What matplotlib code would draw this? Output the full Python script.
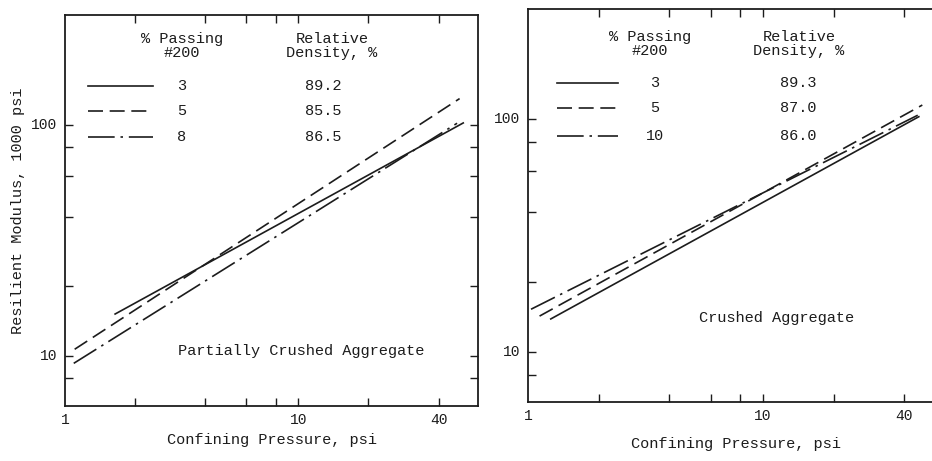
import matplotlib
matplotlib.use("Agg")
import matplotlib.pyplot as plt
from matplotlib.lines import Line2D
from matplotlib.ticker import FixedLocator, NullFormatter, NullLocator

plt.rcParams['font.family'] = ['Liberation Mono', 'DejaVu Sans Mono']

# data (log-log straight lines, start/end points)
pressure_left = {'3': [1.64, 51.0], '5': [1.10, 49.2], '8': [1.09, 48.0]}
modulus_left = {'3': [15.2, 102.0], '5': [10.7, 130.0], '8': [9.3, 101.7]}
density_left = ['89.2', '85.5', '86.5']

pressure_right = {'3': [1.25, 46.1], '5': [1.12, 47.7], '10': [1.03, 45.6]}
modulus_right = {'3': [13.9, 102.5], '5': [14.3, 115.0], '10': [15.3, 104.0]}
density_right = ['89.3', '87.0', '86.0']

xticks = [2, 4, 6, 8, 10, 20, 40]
xticklabels = ['1', '10', '40']
yticks = [8, 10, 20, 40, 60, 80, 100]
yticklabels = ['10', '100']

W, H = 932, 461
INK = '#1c1c1c'
styles = [dict(ls='-'), dict(ls=(0, (9, 4))), dict(ls=(0, (16, 3.5, 1.5, 3.5)))]
LW = 1.2
FS = 11

fig = plt.figure(figsize=(W / 100, H / 100), dpi=100)


def px(x, y):
    return x / W, 1 - y / H


def make_axes(x0, x1, y0, y1):
    l, t = px(x0, y0)
    r, b = px(x1, y1)
    return fig.add_axes([l, b, r - l, t - b])


def style_axes(ax, ylim):
    ax.set_xscale('log')
    ax.set_yscale('log')
    ax.set_xlim(1.0, 59)
    ax.set_ylim(*ylim)
    ax.xaxis.set_major_locator(FixedLocator(xticks))
    ax.xaxis.set_minor_locator(NullLocator())
    ax.yaxis.set_major_locator(FixedLocator(yticks))
    ax.yaxis.set_minor_locator(NullLocator())
    ax.xaxis.set_major_formatter(NullFormatter())
    ax.yaxis.set_major_formatter(NullFormatter())
    ax.tick_params(direction='in', length=6, width=1.0, color=INK,
                   top=True, right=True)
    for s in ax.spines.values():
        s.set_linewidth(1.3)
        s.set_color(INK)
    # only some ticks carry labels, place them as text
    for lab in xticklabels:
        ax.text(float(lab), -0.018, lab, transform=ax.get_xaxis_transform(),
                ha='center', va='top', fontsize=FS - 0.5, color=INK)
    for lab in yticklabels:
        ax.text(-0.018, float(lab), lab, transform=ax.get_yaxis_transform(),
                ha='right', va='center', fontsize=FS - 0.5, color=INK)


def legend_block(xh1, xh2, yh, xl0, xl1, xn, xd, rows, labels, dens):
    fig.text(*px(xh1, yh), '% Passing\n#200', ha='center', va='center',
             fontsize=FS, color=INK, linespacing=1.0)
    fig.text(*px(xh2, yh), 'Relative\nDensity, %', ha='center', va='center',
             fontsize=FS, color=INK, linespacing=1.0)
    for st, y, lab, d in zip(styles, rows, labels, dens):
        a, b = px(xl0, y)
        c, _ = px(xl1, y)
        fig.add_artist(Line2D([a, c], [b, b], transform=fig.transFigure,
                              color=INK, lw=LW, **st))
        fig.text(*px(xn, y), lab, ha='center', va='center', fontsize=FS, color=INK)
        fig.text(*px(xd, y), d, ha='center', va='center', fontsize=FS, color=INK)


# left panel
ax1 = make_axes(65, 478, 15, 406)
style_axes(ax1, (6.08, 299))
for st, key in zip(styles, pressure_left):
    ax1.plot(pressure_left[key], modulus_left[key], color=INK, lw=LW, **st)
ax1.text(*px(301, 351), 'Partially Crushed Aggregate', transform=fig.transFigure,
         ha='center', va='center', fontsize=FS, color=INK)
ax1.set_ylabel('Resilient Modulus, 1000 psi', fontsize=FS, color=INK, labelpad=25)
ax1.set_xlabel('Confining Pressure, psi', fontsize=FS, color=INK, labelpad=16)
legend_block(182, 332, 46, 88, 153, 182, 323, [86, 111, 137],
             list(pressure_left), density_left)

# right panel
ax2 = make_axes(528, 944, 9, 402)
style_axes(ax2, (6.12, 297))
for st, key in zip(styles, pressure_right):
    ax2.plot(pressure_right[key], modulus_right[key], color=INK, lw=LW, **st)
ax2.text(*px(777, 318), 'Crushed Aggregate', transform=fig.transFigure,
         ha='center', va='center', fontsize=FS, color=INK)
ax2.set_xlabel('Confining Pressure, psi', fontsize=FS, color=INK, labelpad=22)
legend_block(650, 799, 44, 557, 618, 655, 798, [83, 108, 136],
             list(pressure_right), density_right)

fig.savefig('out.png', dpi=100)
